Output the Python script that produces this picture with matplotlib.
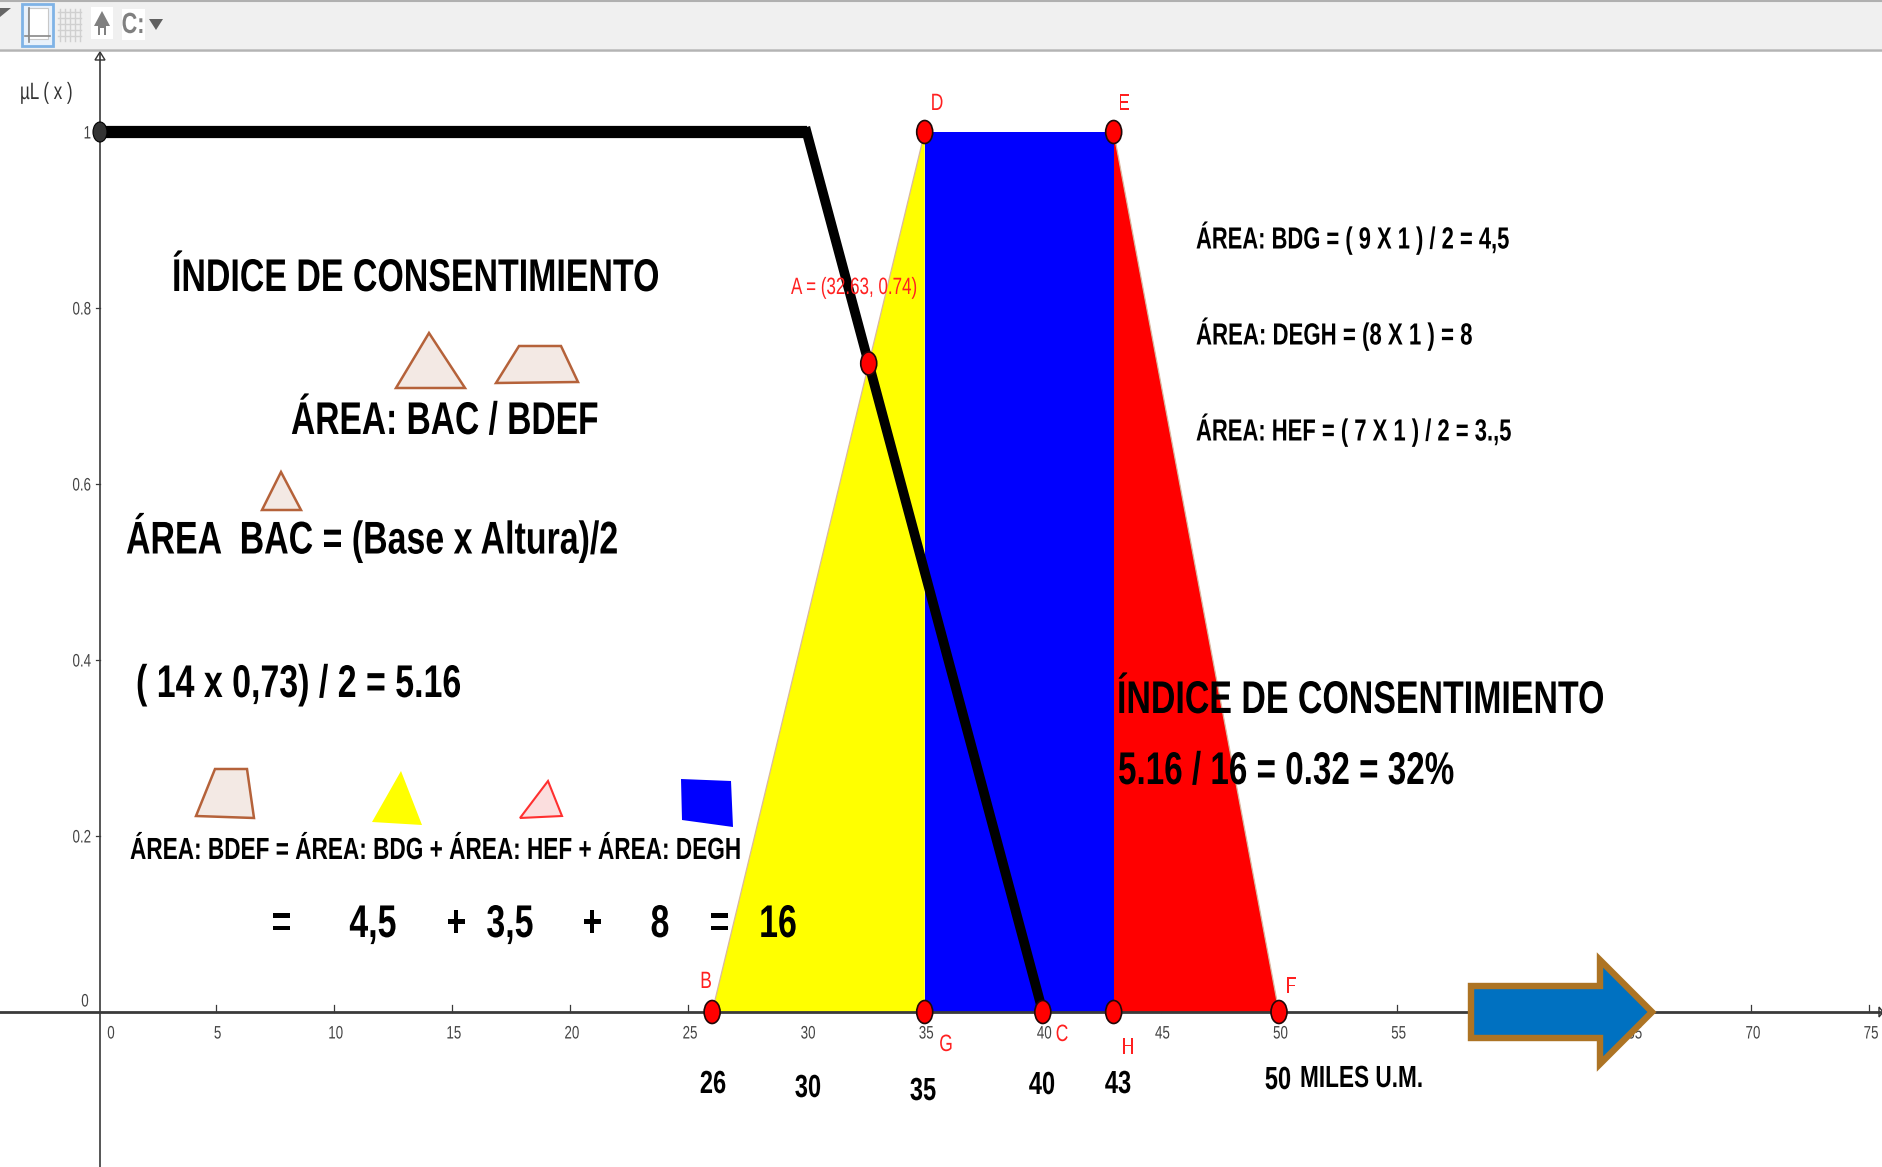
import matplotlib
matplotlib.use("Agg")
import matplotlib.pyplot as plt
from matplotlib.patches import Ellipse, Polygon, Rectangle
from matplotlib.patheffects import AbstractPathEffect
from matplotlib.transforms import Affine2D

# points of the fuzzy sets (miles U.M., membership)
point_names = ["B", "D", "E", "F", "G", "H", "C", "A"]
point_x = [26, 35, 43, 50, 35, 43, 40, 32.63]
point_y = [0, 1, 1, 0, 0, 0, 0, 0.737]

flat_x = [0, 30]
flat_y = [1, 1]
slope_x = [30, 40]
slope_y = [1, 0]

yellow_x = [26, 35, 35]
yellow_y = [0, 1, 0]
blue_x = [35, 43, 43, 35]
blue_y = [1, 1, 0, 0]
red_x = [43, 50, 43]
red_y = [1, 0, 0]

x_ticks = list(range(0, 80, 5))
y_ticks = [0.2, 0.4, 0.6, 0.8, 1]
y_tick_labels = ["0.2", "0.4", "0.6", "0.8", "1"]

FIG_W, FIG_H = 1883, 1167
X0, Y0 = 98, 1012
PX_X, PX_Y = 23.62, 880  # pixels per data unit
SQUEEZE = 0.74  # the screenshot is stretched, the letters are narrow

plt.rcParams["font.family"] = ["Liberation Sans", "DejaVu Sans"]


class Squeeze(AbstractPathEffect):
    def __init__(self, anchor_x, factor=SQUEEZE):
        super().__init__()
        self.anchor_x = anchor_x
        self.factor = factor

    def draw_path(self, renderer, gc, tpath, affine, rgbFace=None):
        squeezed = affine + Affine2D().translate(-self.anchor_x, 0).scale(self.factor, 1).translate(self.anchor_x, 0)
        renderer.draw_path(gc, tpath, squeezed, rgbFace)


fig = plt.figure(figsize=(FIG_W / 100, FIG_H / 100), dpi=100, facecolor="white")

# data layer
ax = fig.add_axes([0, 0, 1, 1])
ax.set_xlim(-X0 / PX_X, (FIG_W - X0) / PX_X)
ax.set_ylim((Y0 - FIG_H) / PX_Y, Y0 / PX_Y)
ax.axis("off")

edge = "#d9b8a0"
axis_x = 2 / PX_X
ax.fill(yellow_x, yellow_y, facecolor="#ffff00", edgecolor="none", zorder=2)
ax.fill(red_x, red_y, facecolor="#ff0000", edgecolor="none", zorder=2)
ax.fill(blue_x, blue_y, facecolor="#0000ff", edgecolor="none", zorder=2)
ax.plot(yellow_x[:2], yellow_y[:2], color=edge, lw=0.9, zorder=2)
ax.plot(red_x[:2], red_y[:2], color=edge, lw=0.9, zorder=2)

ax.plot(ax.get_xlim(), [0, 0], color="#3a3a3a", lw=2.0, zorder=3)
ax.plot([axis_x, axis_x], [ax.get_ylim()[0], (Y0 - 54) / PX_Y], color="#3a3a3a", lw=1.2, zorder=3)

for t in x_ticks:
    if t > 0:
        ax.plot([t, t], [0, 7 / PX_Y], color="#3a3a3a", lw=0.9, zorder=1)
for t in y_ticks:
    ax.plot([axis_x - 4 / PX_X, axis_x], [t, t], color="#3a3a3a", lw=0.9, zorder=1)

ax.plot(flat_x, flat_y, color="black", lw=8.8, solid_capstyle="butt", zorder=4)
ax.plot(slope_x, slope_y, color="black", lw=7, solid_capstyle="projecting", zorder=4)
ax.add_patch(Ellipse((axis_x, 1), 14 / PX_X, 20 / PX_Y, facecolor="#333333", edgecolor="black", lw=0.8, zorder=5))

for px, py in zip(point_x, point_y):
    ax.add_patch(Ellipse((px, py), 16 / PX_X, 23 / PX_Y, facecolor="#ff0000", edgecolor="#200808", lw=1.2, zorder=6))

# overlay in pixel coordinates for notes and icons
ov = fig.add_axes([0, 0, 1, 1])
ov.set_xlim(0, FIG_W)
ov.set_ylim(FIG_H, 0)
ov.axis("off")
ov.patch.set_alpha(0)


def note(x, y, s, size=33, weight="bold", color="black", ha="left", z=6, factor=SQUEEZE):
    t = ov.text(x, y, s, fontsize=size, fontweight=weight, color=color, ha=ha, va="center", zorder=z)
    t.set_path_effects([Squeeze(x, factor)])


def shape(xs, ys, face, line="none", lw=1.5, z=3):
    ov.add_patch(Polygon(list(zip(xs, ys)), closed=True, facecolor=face, edgecolor=line, lw=lw, zorder=z))


# tick labels, under the big arrow
for t in x_ticks:
    if t > 0:
        note(X0 + t * PX_X + 1.5, 1034, str(t), size=13, weight="normal", color="#444444", ha="center", z=1)
note(111, 1034, "0", size=13, weight="normal", color="#444444", ha="center", z=1)
note(85, 1002, "0", size=13, weight="normal", color="#444444", ha="center", z=1)
for t, label in zip(y_ticks, y_tick_labels):
    note(91, Y0 - t * PX_Y + 2, label, size=13, weight="normal", color="#444444", ha="right", z=1)

# toolbar
ov.add_patch(Rectangle((0, 0), FIG_W, 49, facecolor="#f0f0f0", edgecolor="none", zorder=2))
ov.plot([0, FIG_W], [0.5, 0.5], color="#b0b0b0", lw=1.5, zorder=3)
ov.plot([0, FIG_W], [50, 50], color="#b4b4b4", lw=1.8, zorder=3)
shape([0, 11, 0], [8, 8, 17], "#666666")
ov.add_patch(Rectangle((22, 4), 31, 42, facecolor="#e8f1fb", edgecolor="#7fb3e6", lw=2, zorder=3))
ov.add_patch(Rectangle((28, 8), 20, 31, facecolor="white", edgecolor="#c8c8c8", lw=0.8, zorder=4))
ov.plot([25, 50], [36, 36], color="#888888", lw=1.2, zorder=5)
ov.plot([29, 29], [8, 42], color="#888888", lw=1.2, zorder=5)
for g in range(60, 82, 5):
    ov.plot([g, g], [9, 41], color="#d0d0d0", lw=1, zorder=4)
for g in range(12, 42, 6):
    ov.plot([58, 81], [g, g], color="#d0d0d0", lw=1, zorder=4)
ov.add_patch(Rectangle((91, 7), 22, 32, facecolor="white", edgecolor="none", zorder=3))
shape([94, 102, 110, 106, 106, 104, 104, 100, 100, 98, 98], [26, 11, 26, 26, 35, 35, 28, 28, 35, 35, 26], "#808080", z=4)
ov.add_patch(Rectangle((122, 9), 23, 31, facecolor="white", edgecolor="none", zorder=3))
note(133, 25, "C:", size=21, color="#808080", ha="center")
shape([149, 163, 156], [19, 19, 30], "#606060", z=4)
shape([95, 100, 105], [60, 52, 60], "none", line="#333333", lw=1.0)
shape([1879, 1883, 1879], [1007, 1012, 1017], "none", line="#333333", lw=1.0)

# arrow to the right
shape([1471, 1600, 1600, 1652, 1600, 1600, 1471],
      [986, 986, 960, 1012, 1064, 1038, 1038],
      "#0071c1", line="#ad7424", lw=4.6, z=5)

note(20, 93, "µL ( x )", size=17, weight="normal", color="#333333", factor=0.72)

# left explanation
note(172, 279, "ÍNDICE DE CONSENTIMIENTO")
note(291, 422, "ÁREA: BAC / BDEF", factor=0.732)
note(126, 538, "ÁREA  BAC = (Base x Altura)/2")
note(136, 685, "( 14 x 0,73) / 2 = 5.16")
note(130, 851, "ÁREA: BDEF = ÁREA: BDG + ÁREA: HEF + ÁREA: DEGH", size=22)
for x, s in zip([281, 373, 456, 510, 592, 660, 719, 778], ["=", "4,5", "+", "3,5", "+", "8", "=", "16"]):
    note(x, 925, s, ha="center")

# right explanation
note(1196, 238, "ÁREA: BDG = ( 9 X 1 ) / 2 = 4,5", size=22, factor=0.718)
note(1196, 334, "ÁREA: DEGH = (8 X 1 ) = 8", size=22, factor=0.727)
note(1196, 430, "ÁREA: HEF = ( 7 X 1 ) / 2 = 3.,5", size=22, factor=0.72)
note(1117, 701, "ÍNDICE DE CONSENTIMIENTO")
note(1118, 772, "5.16 / 16 = 0.32 = 32%", factor=0.725)

# values under the axis
for x, y, s in zip([713, 808, 923, 1042, 1118, 1278], [1085, 1089, 1092, 1086, 1085, 1081], ["26", "30", "35", "40", "43", "50"]):
    note(x, y, s, size=23, ha="center")
note(1300, 1079, "MILES U.M.", size=22)

# red point labels
for x, y, s in zip([937, 1124, 706, 1291, 946, 1062, 1128], [104, 104, 982, 987, 1045, 1035, 1048], ["D", "E", "B", "F", "G", "C", "H"]):
    note(x, y, s, size=17, weight="normal", color="#ff2020", ha="center")
note(791, 288, "A = (32.63, 0.74)", size=17, weight="normal", color="#ff2020", factor=0.72)

# little icons
shape([396, 429, 465], [388, 333, 388], "#f3e9e4", line="#b5623a", lw=1.8)
shape([496, 519, 561, 578], [383, 346, 346, 382], "#f3e9e4", line="#b5623a", lw=1.8)
shape([262, 281, 301], [510, 472, 510], "#f3e9e4", line="#b5623a", lw=1.8)
shape([196, 215, 247, 254], [816, 769, 769, 818], "#f3e9e4", line="#b5623a", lw=1.8)
shape([372, 401, 422], [822, 771, 825], "#ffff00")
shape([520, 548, 562], [818, 781, 816], "#fbdede", line="#ff3030", lw=1.5)
shape([681, 731, 733, 682], [779, 781, 827, 820], "#0000ff")

fig.savefig("out.png", dpi=100)
